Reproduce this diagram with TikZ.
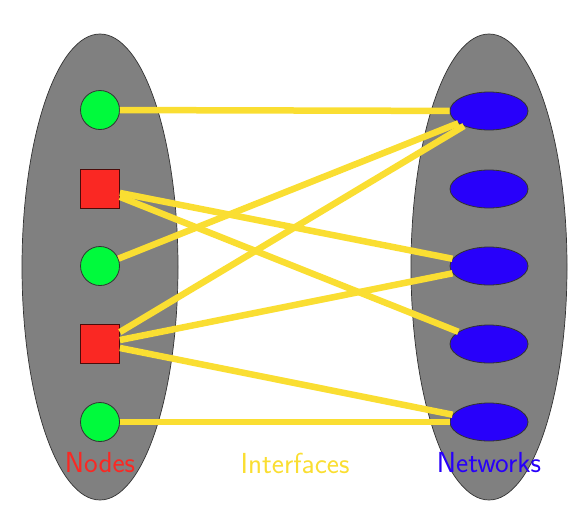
\documentclass[tikz,border=0pt]{standalone}
\usetikzlibrary{shapes.geometric}
\definecolor{ngreen}{RGB}{0,250,60}
\definecolor{nred}{RGB}{250,40,35}
\definecolor{nblue}{RGB}{40,0,250}
\definecolor{nyellow}{RGB}{250,222,50}
\definecolor{ngray}{RGB}{128,128,128}
\begin{document}
\begin{tikzpicture}[x=1pt,y=-1pt,
  group/.style={draw=black!80,fill=ngray,line width=0.7pt},
  nodecirc/.style={circle,draw=black!80,fill=ngreen,minimum size=39pt,inner sep=0pt,line width=0.8pt},
  nodesq/.style={rectangle,draw=black!70!nred,fill=nred,minimum size=39pt,inner sep=0pt,line width=0.8pt},
  netell/.style={ellipse,draw=black!80,fill=nblue,minimum width=78pt,minimum height=38pt,inner sep=0pt,line width=0.8pt},
  iface/.style={draw=nyellow,line width=6.5pt},
  lbl/.style={font=\sffamily\fontsize{29}{33}\selectfont}]
\useasboundingbox (0,0) rectangle (580,514);
\draw[group] (100,267) ellipse [x radius=78, y radius=233];
\draw[group] (489,267) ellipse [x radius=78, y radius=233];
\node[nodecirc] (c1) at (100,110) {};
\node[nodesq] (s1) at (100,189) {};
\node[nodecirc] (c2) at (100,266) {};
\node[nodesq] (s2) at (100,344) {};
\node[nodecirc] (c3) at (100,422) {};
\node[netell] (e1) at (489,111) {};
\node[netell] (e2) at (489,189) {};
\node[netell] (e3) at (489,266) {};
\node[netell] (e4) at (489,344) {};
\node[netell] (e5) at (489,422) {};
\draw[iface] (c1) -- (e1);
\draw[iface] (s1) -- (e3);
\draw[iface] (s1) -- (e4);
\draw[iface] (c2) -- (e1);
\draw[iface] (s2) -- (e1);
\draw[iface] (s2) -- (e3);
\draw[iface] (s2) -- (e5);
\draw[iface] (c3) -- (e5);
\node[lbl,text=nred] (ln) at (100,463) {Nodes};
\node[lbl,text=nyellow] (li) at (295,463) {Interfaces};
\node[lbl,text=nblue] (lw) at (489,463) {Networks};
\end{tikzpicture}
\end{document}
